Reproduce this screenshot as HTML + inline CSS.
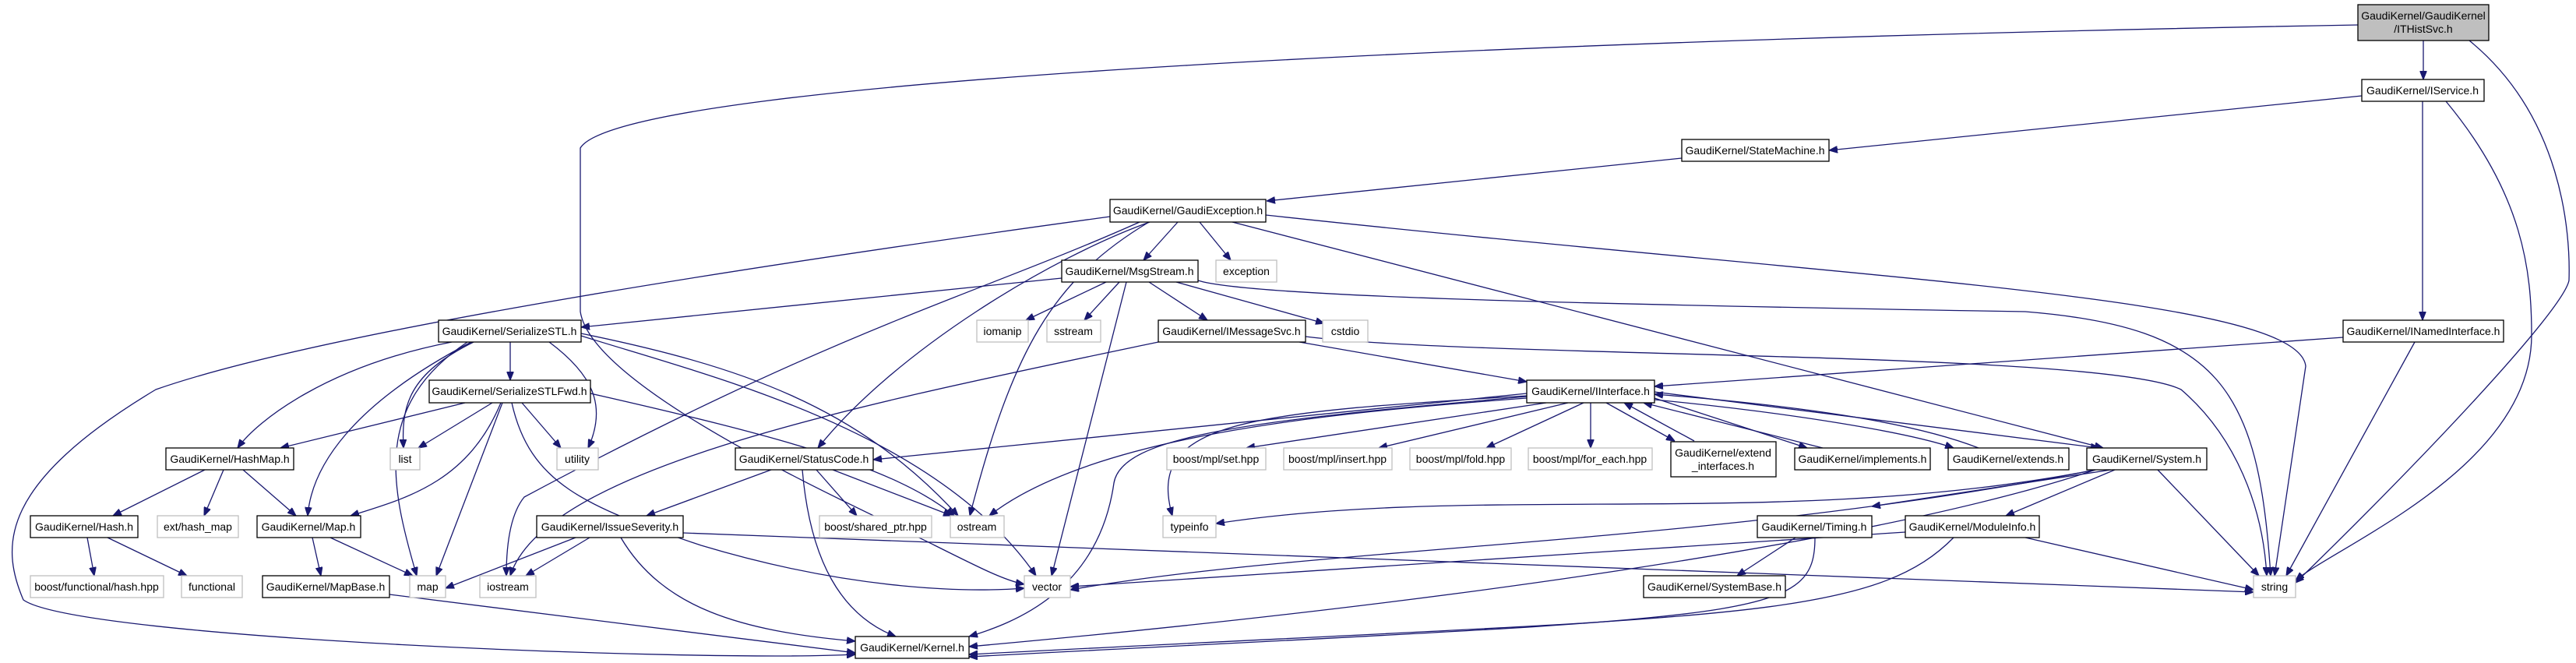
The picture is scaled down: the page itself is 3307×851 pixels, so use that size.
<!DOCTYPE html>
<html><head><meta charset="utf-8"><style>
html,body{margin:0;padding:0;background:#fff;}
svg{display:block;}
text{font-family:"Liberation Sans",sans-serif;font-size:14px;fill:#000;text-anchor:middle;}
.n{fill:#fff;stroke:#000;stroke-width:1.3;}
.g{fill:#fff;stroke:#bfbfbf;stroke-width:1.3;}
.e{fill:none;stroke:#191970;stroke-width:1.3;}
</style></head><body>
<svg width="3307" height="851" viewBox="0 0 3307 851" xmlns="http://www.w3.org/2000/svg">
<defs>
<marker id="a" viewBox="0 0 10 8" refX="10" refY="4" markerWidth="11" markerHeight="9" markerUnits="userSpaceOnUse" orient="auto">
<path d="M0,0 L10,4 L0,8 z" fill="#191970" stroke="#191970"/>
</marker>
</defs>
<g class="e" marker-end="url(#a)">
<path d="M3111 52 L3111 102"/>
<path d="M3027 32 C2000 50, 800 100, 745 190 L745 400 C760 500, 1100 650, 1200 700 C1260 730, 1290 745, 1315 750"/>
<path d="M3170 52 C3290 150, 3300 300, 3298 360 C3290 400, 3100 600, 2947 748"/>
<path d="M3032 123 L2348 193"/>
<path d="M3110 130 L3110 411"/>
<path d="M3140 130 C3240 250, 3250 350, 3250 430 C3250 600, 3000 700, 2947 745"/>
<path d="M2159 203 L1626 258"/>
<path d="M1512 285 L1468 334"/>
<path d="M1540 285 L1580 334"/>
<path d="M1476 285 C1350 330, 1150 450, 1050 575"/>
<path d="M1582 285 L2700 575"/>
<path d="M1625 276 C2400 360, 2950 380, 2960 470 L2920 739"/>
<path d="M1425 278 C900 350, 400 430, 200 500 C0 620, 0 700, 30 770 C100 820, 900 850, 1098 840"/>
<path d="M1475 285 C1350 360, 1300 450, 1245 662"/>
<path d="M1463 285 C1250 380, 1080 420, 673 638 C655 660, 650 700, 650 739"/>
<path d="M1487 439 C1100 520, 700 600, 655 739"/>
<path d="M1363 357 L746 420"/>
<path d="M1420 362 L1317 411"/>
<path d="M1437 362 L1392 411"/>
<path d="M1446 362 L1350 739"/>
<path d="M1475 362 L1550 411"/>
<path d="M1510 362 L1700 415"/>
<path d="M1538 360 C1600 380, 2000 390, 2600 400 C2850 420, 2900 500, 2915 739"/>
<path d="M1668 439 L1960 490"/>
<path d="M1676 432 C1900 460, 2700 450, 2800 500 C2870 560, 2905 650, 2910 739"/>
<path d="M3008 433 L2124 496"/>
<path d="M3100 439 L2935 739"/>
<path d="M655 439 L655 488"/>
<path d="M580 439 C420 470, 330 540, 305 575"/>
<path d="M605 439 C450 520, 400 600, 395 662"/>
<path d="M608 439 C525 480, 515 520, 518 575"/>
<path d="M600 439 C480 520, 500 620, 535 739"/>
<path d="M705 439 C760 480, 780 520, 755 575"/>
<path d="M746 431 C900 480, 1200 550, 1330 739"/>
<path d="M746 428 C950 470, 1100 520, 1230 662"/>
<path d="M597 517 L360 575"/>
<path d="M632 517 L537 575"/>
<path d="M643 517 C600 620, 520 640, 450 662"/>
<path d="M645 517 L560 739"/>
<path d="M670 517 L720 575"/>
<path d="M758 505 C1000 560, 1150 600, 1225 662"/>
<path d="M657 517 C680 620, 750 650, 900 700 C1100 760, 1250 760, 1315 755"/>
<path d="M263 603 L145 662"/>
<path d="M287 603 L262 662"/>
<path d="M312 603 L380 662"/>
<path d="M112 690 L121 739"/>
<path d="M138 690 L240 739"/>
<path d="M401 690 L412 739"/>
<path d="M424 690 L530 739"/>
<path d="M500 763 L1098 838"/>
<path d="M739 690 L572 755"/>
<path d="M757 690 L675 739"/>
<path d="M797 690 C850 780, 950 810, 1098 823"/>
<path d="M877 684 L2893 760"/>
<path d="M990 603 L830 662"/>
<path d="M1048 603 L1100 662"/>
<path d="M1069 603 L1222 662"/>
<path d="M1030 603 C1040 720, 1080 790, 1150 817"/>
<path d="M1960 505 L1121 590"/>
<path d="M1985 517 L1600 575"/>
<path d="M2013 517 L1770 575"/>
<path d="M2033 517 L1908 575"/>
<path d="M2042 517 L2042 575"/>
<path d="M2062 517 L2150 566"/>
<path d="M2175 566 L2085 517"/>
<path d="M1960 511 C1700 530, 1400 560, 1270 662"/>
<path d="M1960 508 C1600 530, 1470 540, 1505 662"/>
<path d="M1960 509 C1600 540, 1440 560, 1430 620 C1410 760, 1300 800, 1244 817"/>
<path d="M2124 511 L2320 575"/>
<path d="M2340 575 L2110 517"/>
<path d="M2124 513 C2300 530, 2450 555, 2508 575"/>
<path d="M2540 575 C2450 540, 2300 520, 2124 506"/>
<path d="M2124 503 L2695 575"/>
<path d="M2710 603 L2403 650"/>
<path d="M2715 603 L2575 662"/>
<path d="M2770 603 L2900 739"/>
<path d="M2690 603 C2400 700, 1800 780, 1244 830"/>
<path d="M2690 603 C2200 700, 1700 700, 1374 757"/>
<path d="M2690 603 C2300 680, 1900 620, 1561 672"/>
<path d="M2305 690 L2230 739"/>
<path d="M2330 690 C2330 800, 2250 790, 1244 843"/>
<path d="M2446 683 L1374 753"/>
<path d="M2600 690 L2893 757"/>
<path d="M2508 690 C2400 800, 2200 790, 1244 840"/>
</g>
<g>
<rect x="3027" y="6" width="168" height="46" fill="#bfbfbf" stroke="#000" stroke-width="1.3"/>
<text x="3111" y="25">GaudiKernel/GaudiKernel</text><text x="3111" y="42">/ITHistSvc.h</text>
<rect class="n" x="3032" y="102" width="157" height="28"/><text x="3110" y="121">GaudiKernel/IService.h</text>
<rect class="n" x="2159" y="179" width="189" height="28"/><text x="2253" y="198">GaudiKernel/StateMachine.h</text>
<rect class="n" x="1425" y="256" width="200" height="29"/><text x="1525" y="275">GaudiKernel/GaudiException.h</text>
<rect class="n" x="1363" y="334" width="175" height="28"/><text x="1450" y="353">GaudiKernel/MsgStream.h</text>
<rect class="g" x="1561" y="334" width="78" height="28"/><text x="1600" y="353">exception</text>
<rect class="g" x="1254" y="411" width="66" height="28"/><text x="1287" y="430">iomanip</text>
<rect class="g" x="1344" y="411" width="69" height="28"/><text x="1378" y="430">sstream</text>
<rect class="n" x="1487" y="411" width="189" height="28"/><text x="1581" y="430">GaudiKernel/IMessageSvc.h</text>
<rect class="g" x="1698" y="411" width="58" height="28"/><text x="1727" y="430">cstdio</text>
<rect class="n" x="563" y="411" width="183" height="28"/><text x="654" y="430">GaudiKernel/SerializeSTL.h</text>
<rect class="n" x="3008" y="411" width="206" height="28"/><text x="3111" y="430">GaudiKernel/INamedInterface.h</text>
<rect class="n" x="551" y="488" width="207" height="29"/><text x="654" y="507">GaudiKernel/SerializeSTLFwd.h</text>
<rect class="n" x="1960" y="488" width="164" height="29"/><text x="2042" y="507">GaudiKernel/IInterface.h</text>
<rect class="n" x="213" y="575" width="164" height="28"/><text x="295" y="594">GaudiKernel/HashMap.h</text>
<rect class="g" x="501" y="575" width="38" height="28"/><text x="520" y="594">list</text>
<rect class="g" x="715" y="575" width="53" height="28"/><text x="741" y="594">utility</text>
<rect class="n" x="944" y="575" width="177" height="28"/><text x="1032" y="594">GaudiKernel/StatusCode.h</text>
<rect class="g" x="1498" y="575" width="127" height="28"/><text x="1561" y="594">boost/mpl/set.hpp</text>
<rect class="g" x="1648" y="575" width="139" height="28"/><text x="1717" y="594">boost/mpl/insert.hpp</text>
<rect class="g" x="1810" y="575" width="130" height="28"/><text x="1875" y="594">boost/mpl/fold.hpp</text>
<rect class="g" x="1962" y="575" width="159" height="28"/><text x="2041" y="594">boost/mpl/for_each.hpp</text>
<rect class="n" x="2145" y="567" width="135" height="45"/><text x="2212" y="586">GaudiKernel/extend</text><text x="2212" y="603">_interfaces.h</text>
<rect class="n" x="2304" y="575" width="174" height="28"/><text x="2391" y="594">GaudiKernel/implements.h</text>
<rect class="n" x="2501" y="575" width="155" height="28"/><text x="2578" y="594">GaudiKernel/extends.h</text>
<rect class="n" x="2679" y="575" width="154" height="28"/><text x="2756" y="594">GaudiKernel/System.h</text>
<rect class="n" x="39" y="662" width="138" height="28"/><text x="108" y="681">GaudiKernel/Hash.h</text>
<rect class="g" x="202" y="662" width="104" height="28"/><text x="254" y="681">ext/hash_map</text>
<rect class="n" x="330" y="662" width="133" height="28"/><text x="396" y="681">GaudiKernel/Map.h</text>
<rect class="n" x="689" y="662" width="188" height="28"/><text x="783" y="681">GaudiKernel/IssueSeverity.h</text>
<rect class="g" x="1052" y="662" width="144" height="28"/><text x="1124" y="681">boost/shared_ptr.hpp</text>
<rect class="g" x="1220" y="662" width="69" height="28"/><text x="1254" y="681">ostream</text>
<rect class="g" x="1493" y="662" width="68" height="28"/><text x="1527" y="681">typeinfo</text>
<rect class="n" x="2256" y="662" width="147" height="28"/><text x="2329" y="681">GaudiKernel/Timing.h</text>
<rect class="n" x="2446" y="662" width="172" height="28"/><text x="2532" y="681">GaudiKernel/ModuleInfo.h</text>
<rect class="g" x="39" y="739" width="171" height="28"/><text x="124" y="758">boost/functional/hash.hpp</text>
<rect class="g" x="233" y="739" width="78" height="28"/><text x="272" y="758">functional</text>
<rect class="n" x="337" y="739" width="163" height="28"/><text x="418" y="758">GaudiKernel/MapBase.h</text>
<rect class="g" x="526" y="739" width="46" height="28"/><text x="549" y="758">map</text>
<rect class="g" x="616" y="739" width="72" height="28"/><text x="652" y="758">iostream</text>
<rect class="g" x="1315" y="739" width="59" height="28"/><text x="1344" y="758">vector</text>
<rect class="n" x="2110" y="739" width="182" height="28"/><text x="2201" y="758">GaudiKernel/SystemBase.h</text>
<rect class="g" x="2893" y="739" width="54" height="28"/><text x="2920" y="758">string</text>
<rect class="n" x="1098" y="817" width="146" height="28"/><text x="1171" y="836">GaudiKernel/Kernel.h</text>
</g>
</svg>
</body></html>
